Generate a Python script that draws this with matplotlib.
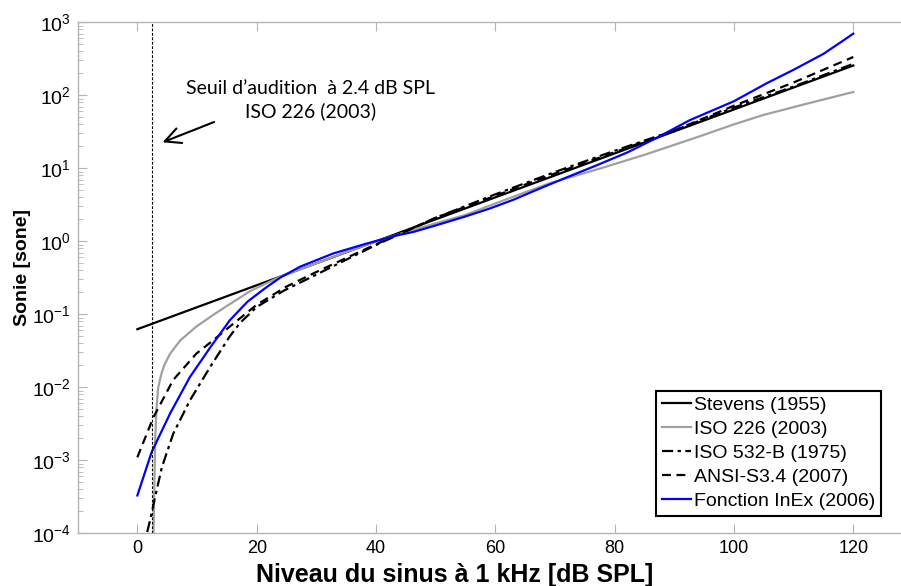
import numpy as np
import matplotlib
matplotlib.use("Agg")
import matplotlib.pyplot as plt

plt.rcParams['font.family'] = ['Liberation Sans', 'DejaVu Sans']
plt.rcParams['mathtext.fontset'] = 'custom'
plt.rcParams['mathtext.rm'] = 'Liberation Sans'

# Stevens (1955)
stevens_x = [0, 10, 20, 30, 40, 50, 60, 70, 80, 90, 100, 110, 120]
stevens_y = [0.0625, 0.125, 0.25, 0.5, 1, 2, 4, 8, 16, 32, 64, 128, 256]

# ISO 226 (2003)
iso226_x = [2.65, 2.8, 3.0, 3.2, 3.5, 4.0, 4.5, 5.5, 7.2, 9.9, 12.7, 15, 19, 24,
            30, 35, 40, 47, 55, 62, 69, 77.5, 85, 94, 100, 105, 112, 120]
iso226_y = [0.00005, 0.0003, 0.002, 0.005, 0.010, 0.015, 0.020, 0.029, 0.044,
            0.068, 0.098, 0.13, 0.21, 0.33, 0.50, 0.71, 1.0, 1.5, 2.3, 3.8,
            6.2, 9.9, 15.3, 27, 40, 54, 76, 111]

# ISO 532-B (1975)
iso532_x = [1.3, 1.6, 2.2, 3.0, 4.1, 6.0, 8.8, 12.2, 15.5, 17.2, 20, 24.5, 30,
            35, 40, 50, 60, 70, 80, 90, 100, 110, 120]
iso532_y = [0.00005, 0.0001, 0.00016, 0.00032, 0.0008, 0.0023, 0.0066, 0.019,
            0.050, 0.076, 0.126, 0.21, 0.35, 0.56, 0.89, 2.1, 4.4, 8.9, 17.4,
            33, 68, 132, 270]

# ANSI-S3.4 (2007)
ansi_x = [0, 2.7, 6.0, 9.9, 12.7, 15.5, 20, 25, 30, 35, 40, 50, 60, 70, 80, 90,
          100, 110, 120]
ansi_y = [0.0011, 0.0039, 0.0126, 0.029, 0.044, 0.068, 0.135, 0.24, 0.38, 0.59,
          0.91, 2.1, 4.2, 8.5, 16.6, 33, 72, 150, 335]

# Fonction InEx (2006)
inex_x = [0, 2.4, 5.5, 8.8, 12.2, 15.5, 18.5, 21.7, 24, 27.3, 32.8, 38.4, 43.4,
          46.2, 50, 54.6, 59, 63, 67, 71.4, 77, 82.2, 87, 92.6, 100, 105.4, 110,
          115, 118.3, 120]
inex_y = [0.00033, 0.0013, 0.0044, 0.0138, 0.035, 0.083, 0.15, 0.237, 0.32,
          0.45, 0.68, 0.93, 1.2, 1.34, 1.65, 2.14, 2.8, 3.7, 5.1, 7.2, 11, 16.6,
          26, 45.7, 83, 145, 224, 370, 562, 700]

threshold = 2.4

fig = plt.figure(figsize=(9.01, 5.86), dpi=100)
ax = fig.add_axes([77.7 / 901, 52.7 / 586, (913 - 77.7) / 901, 511 / 586])

ax.plot(stevens_x, stevens_y, color='black', lw=1.6, label='Stevens (1955)')
ax.plot(iso226_x, iso226_y, color='#a0a0a0', lw=1.6, label='ISO 226 (2003)')
ax.plot(iso532_x, iso532_y, color='black', lw=1.6, dashes=(5, 2, 1.5, 2),
        label='ISO 532-B (1975)')
ax.plot(ansi_x, ansi_y, color='black', lw=1.6, dashes=(4, 2.5), label='ANSI-S3.4 (2007)')
ax.plot(inex_x, inex_y, color='#0000ff', lw=1.6, label='Fonction InEx (2006)')
ax.axvline(threshold, color='black', lw=0.8, dashes=(2.5, 1.5))

ax.set_yscale('log')
ax.set_xlim(-10, 130)
ax.set_ylim(1e-4, 1e3)
ax.set_xticks([0, 20, 40, 60, 80, 100, 120])

for s in ax.spines.values():
    s.set_color('#b4b4b4')
    s.set_linewidth(1.0)
ax.tick_params(which='both', direction='in', top=True, right=True, color='#b4b4b4')
ax.tick_params(which='major', length=6.5, pad=5)
ax.tick_params(which='minor', length=3.4)
ax.tick_params(axis='x', labelsize=13)
ax.tick_params(axis='y', labelsize=14)

ax.annotate('', xy=(3.8, 22), xytext=(13.3, 44.5),
            arrowprops=dict(arrowstyle='->', color='black', lw=1.5,
                            mutation_scale=28))
ax.text(29.0, 10**(3 - (100 - 22.3) / 73), 'Seuil d\u2019audition  à 2.4 dB SPL\nISO 226 (2003)',
        ha='center', va='center', fontsize=14, family=['Lato', 'DejaVu Sans'],
        linespacing=1.4)

leg = ax.legend(loc='lower right', bbox_to_anchor=(881 / 901, 70 / 586),
                bbox_transform=fig.transFigure, borderaxespad=0, fontsize=14,
                fancybox=False, framealpha=1, edgecolor='black',
                handlelength=1.5, handletextpad=0.15, labelspacing=0.33,
                borderpad=0.3)
leg.get_frame().set_linewidth(1.5)

fig.text(455 / 901, 1 - 575 / 586, 'Niveau du sinus à 1 kHz [dB SPL]',
         ha='center', va='center', fontsize=18, fontweight='bold')
fig.text(23 / 901, 1 - 268 / 586, 'Sonie [sone]', ha='center', va='center',
         rotation=90, fontsize=14, fontweight='bold')

fig.savefig('out.png', dpi=100)
